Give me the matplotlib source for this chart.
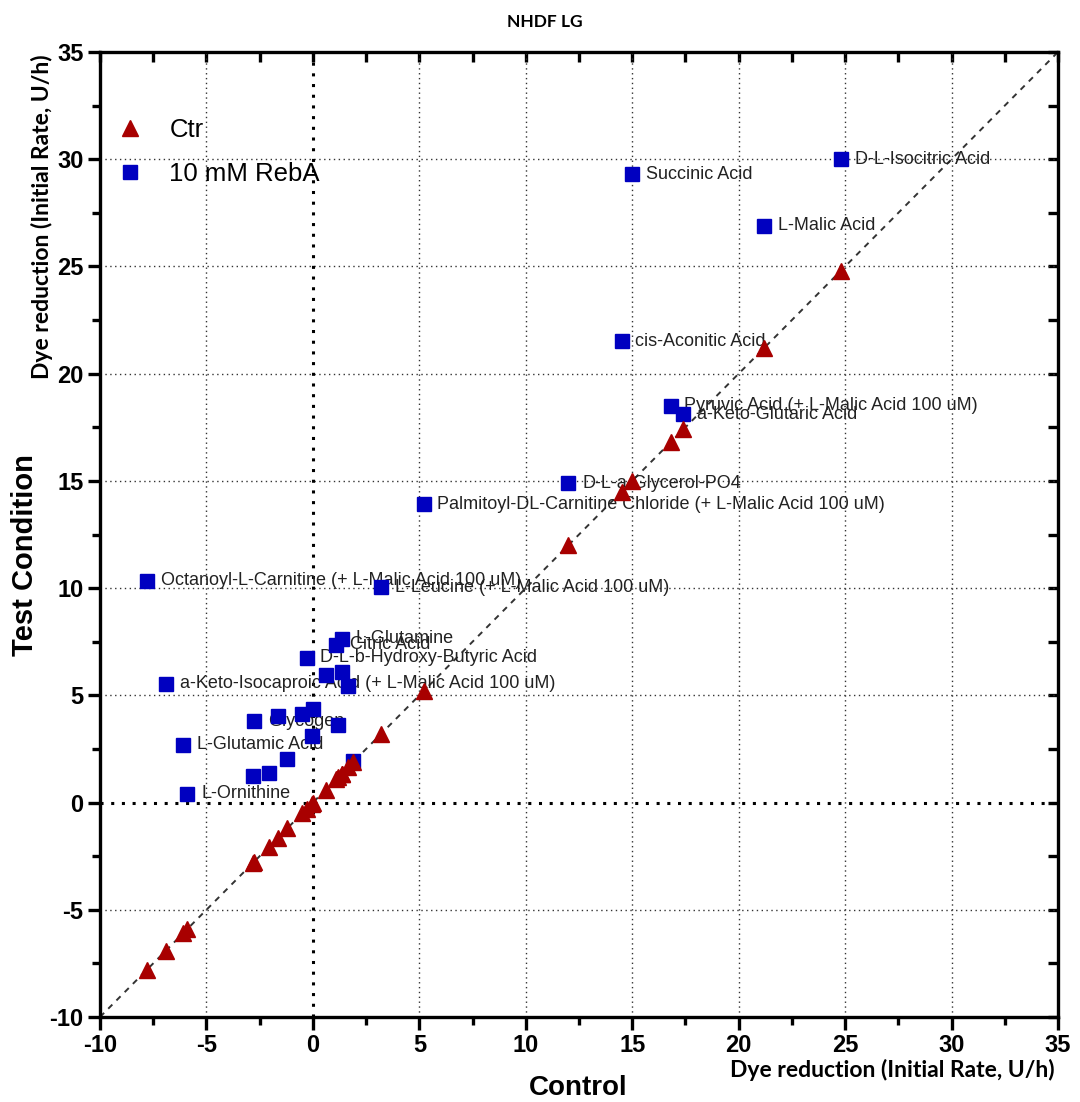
import matplotlib
matplotlib.use("Agg")
import matplotlib.pyplot as plt
from matplotlib.lines import Line2D

plt.rcParams["font.family"] = ["Liberation Sans", "DejaVu Sans"]
plt.rcParams["axes.unicode_minus"] = False

# substrate names (empty = unlabeled point)
LABELS = [
    "D-L-Isocitric Acid", "Succinic Acid", "L-Malic Acid", "cis-Aconitic Acid",
    "Pyruvic Acid (+ L-Malic Acid 100 uM)", "a-Keto-Glutaric Acid",
    "D-L-a-Glycerol-PO4", "Palmitoyl-DL-Carnitine Chloride (+ L-Malic Acid 100 uM)",
    "Octanoyl-L-Carnitine (+ L-Malic Acid 100 uM)", "L-Leucine (+ L-Malic Acid 100 uM)",
    "L-Glutamine", "Citric Acid", "D-L-b-Hydroxy-Butyric Acid",
    "a-Keto-Isocaproic Acid (+ L-Malic Acid 100 uM)", "Glycogen",
    "L-Glutamic Acid", "L-Ornithine",
    "", "", "", "", "", "", "", "", "", "", "", "",
]
# control dye reduction (x), also the Ctr series (x = y)
CONTROL = [
    24.8, 15.0, 21.2, 14.5, 16.8, 17.4, 12.0, 5.2, -7.8, 3.2,
    1.35, 1.1, -0.3, -6.9, -2.75, -6.1, -5.9,
    0.6, 1.35, 1.65, 0.0, -0.5, -1.65, 1.2, -0.05, -1.2, -2.05, -2.8, 1.9,
]
# 10 mM RebA dye reduction (y)
REBA = [
    30.0, 29.3, 26.9, 21.5, 18.5, 18.1, 14.9, 13.9, 10.35, 10.05,
    7.65, 7.35, 6.75, 5.55, 3.8, 2.7, 0.4,
    5.95, 6.1, 5.45, 4.35, 4.15, 4.05, 3.6, 3.1, 2.05, 1.4, 1.25, 1.95,
]

RED = "#a80000"
BLUE = "#0000c0"

fig = plt.figure(figsize=(10.8, 11.02), dpi=100)
ax = fig.add_axes([100 / 1080, 85 / 1102, 958 / 1080, 965 / 1102])

ax.set_xlim(-10, 35)
ax.set_ylim(-10, 35)

# grid
for v in range(-5, 35, 5):
    if v == 0:
        continue
    ax.axvline(v, color="#333333", lw=1.0, ls=(0, (1, 2.5)), zorder=1)
    ax.axhline(v, color="#333333", lw=1.0, ls=(0, (1, 2.5)), zorder=1)
ax.axvline(0, color="black", lw=2.2, ls=(0, (1, 2.5)), zorder=1)
ax.axhline(0, color="black", lw=2.2, ls=(0, (1, 2.5)), zorder=1)

# identity line
ax.plot([-10, 35], [-10, 35], color="#333333", lw=1.4, ls=(0, (3, 3)), zorder=2)

ax.plot(CONTROL, CONTROL, ls="none", marker="^", ms=11, color=RED,
        markeredgecolor=RED, zorder=5)
ax.plot(CONTROL, REBA, ls="none", marker="s", ms=10, color=BLUE,
        markeredgecolor=BLUE, zorder=4)

for name, x, y in zip(LABELS, CONTROL, REBA):
    if name:
        ax.annotate(name, (x, y), xytext=(10, 0), textcoords="offset points",
                    va="center", ha="left", fontsize=13, color="#222222",
                    zorder=3)

# axes styling
for s in ax.spines.values():
    s.set_linewidth(2.4)
ax.set_xticks(range(-10, 36, 5))
ax.set_yticks(range(-10, 36, 5))
ax.set_xticks([x + 2.5 for x in range(-10, 35, 5)], minor=True)
ax.set_yticks([y + 2.5 for y in range(-10, 35, 5)], minor=True)
ax.tick_params(which="major", direction="out", length=9, width=2.4,
               labelsize=17, pad=3)
ax.tick_params(which="minor", direction="out", length=6, width=2.4)
for lab in ax.get_xticklabels() + ax.get_yticklabels():
    lab.set_fontweight("bold")

top = ax.secondary_xaxis("top")
top.set_xticks(range(-10, 36, 5))
top.set_xticks([x + 2.5 for x in range(-10, 35, 5)], minor=True)
top.tick_params(which="both", direction="in", length=7, width=2.4,
                labeltop=False)
right = ax.secondary_yaxis("right")
right.set_yticks(range(-10, 36, 5))
right.set_yticks([y + 2.5 for y in range(-10, 35, 5)], minor=True)
right.tick_params(which="both", direction="in", length=7, width=2.4,
                  labelright=False)

handles = [
    Line2D([], [], ls="none", marker="^", ms=11, color=RED, label="Ctr"),
    Line2D([], [], ls="none", marker="s", ms=10, color=BLUE, label="10 mM RebA"),
]
ax.legend(handles=handles, loc="upper left", bbox_to_anchor=(-0.004, 0.95),
          frameon=False, fontsize=18.5, handletextpad=0.95, labelspacing=0.75,
          borderaxespad=0.3, handlelength=1.2)

fig.text(545 / 1080, 1 - 22 / 1102, "NHDF LG", ha="center", va="center",
         fontsize=12.5, fontweight="bold", family="Lato")
fig.text(25 / 1080, 1 - 555 / 1102, "Test Condition", rotation=90,
         ha="center", va="center", fontsize=21, fontweight="bold")
fig.text(42 / 1080, 1 - 217 / 1102, "Dye reduction (Initial Rate, U/h)",
         rotation=90, ha="center", va="center", fontsize=16.5,
         fontweight="bold", family="Lato")
fig.text(578 / 1080, 1 - 1088 / 1102, "Control", ha="center", va="center",
         fontsize=20, fontweight="bold")
fig.text(892 / 1080, 1 - 1070 / 1102, "Dye reduction (Initial Rate, U/h)",
         ha="center", va="center", fontsize=16.5, fontweight="bold",
         family="Lato")

fig.savefig("out.png", dpi=100)
